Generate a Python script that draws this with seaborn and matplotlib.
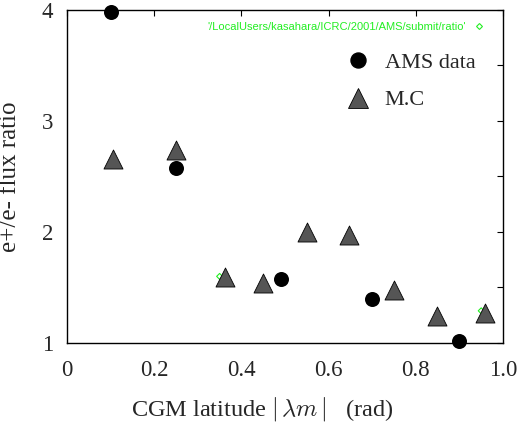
import matplotlib
matplotlib.use("Agg")
import matplotlib.pyplot as plt
import seaborn as sns
from matplotlib.lines import Line2D

# values
ams_lat = [0.10, 0.25, 0.49, 0.70, 0.90]
ams_ratio = [3.98, 2.58, 1.58, 1.40, 1.02]

mc_lat = [0.106, 0.25, 0.362, 0.45, 0.55, 0.647, 0.75, 0.849, 0.959]
mc_ratio = [2.66, 2.74, 1.59, 1.54, 2.00, 1.97, 1.48, 1.24, 1.27]

file_lat = [0.35, 0.95]
file_ratio = [1.60, 1.29]
file_label = "'/LocalUsers/kasahara/ICRC/2001/AMS/submit/ratio'"

x_ticks = [0, 0.2, 0.4, 0.6, 0.8, 1.0]
x_ticklabels = ["0", "0.2", "0.4", "0.6", "0.8", "1.0"]
y_ticks = [1, 1.5, 2, 2.5, 3, 3.5, 4]
y_ticklabels = ["1", "", "2", "", "3", "", "4"]

GREEN = "#22ee22"
GRAY = "#555555"

sns.set_style("white")
plt.rcParams["font.family"] = ["Liberation Serif", "DejaVu Serif"]
plt.rcParams["mathtext.fontset"] = "cm"

fig = plt.figure(figsize=(5.25, 4.29), dpi=100)
ax = fig.add_axes([0.1276, 0.2005, 0.8305, 0.7762])

sns.scatterplot(x=file_lat, y=file_ratio, ax=ax, marker="D", s=9,
                facecolor="none", edgecolor=GREEN, linewidth=0.8, zorder=2)
sns.scatterplot(x=mc_lat, y=mc_ratio, ax=ax, marker="^", s=13.7 ** 2,
                color=GRAY, edgecolor="black", linewidth=0.6, zorder=3)
sns.scatterplot(x=ams_lat, y=ams_ratio, ax=ax, marker="o", s=10.8 ** 2,
                color="black", linewidth=0, zorder=4, clip_on=False)

ax.set_xlim(0, 1)
ax.set_ylim(1, 4)
ax.set_xticks(x_ticks, labels=x_ticklabels)
ax.set_yticks(y_ticks, labels=y_ticklabels)
ax.tick_params(direction="in", length=4, width=0.8, top=True, right=True,
               labelsize=16.5, color="black")
ax.tick_params(axis="x", pad=12)
ax.tick_params(axis="y", pad=10)
for spine in ax.spines.values():
    spine.set_color("black")
    spine.set_linewidth(1)

ax.set_xlabel(r"CGM latitude $|\,\lambda m\,|$   (rad)", fontsize=17.5)
ax.xaxis.set_label_coords(0.447, -0.155)
ax.set_ylabel("e+/e- flux ratio", fontsize=18)
ax.yaxis.set_label_coords(-0.105, 0.5)

leg1 = ax.legend(
    handles=[Line2D([], [], marker="D", ls="none", mfc="none", mec=GREEN,
                    mew=0.8, ms=3)],
    labels=[file_label], loc="upper right", markerfirst=False,
    frameon=False, labelcolor=GREEN, handlelength=1, handletextpad=0.6,
    prop={"family": "Liberation Sans", "size": 8},
    bbox_to_anchor=(0.967, 0.978), borderaxespad=0)
ax.add_artist(leg1)

ax.legend(
    handles=[Line2D([], [], marker="o", ls="none", color="black", ms=10.8),
             Line2D([], [], marker="^", ls="none", mfc=GRAY, mec="black",
                    mew=0.6, ms=13.7)],
    labels=["AMS data", "M.C"], loc="upper left", frameon=False,
    prop={"size": 16}, handlelength=1, handletextpad=0.7, labelspacing=0.75,
    bbox_to_anchor=(0.622, 0.899), borderaxespad=0)

fig.savefig("out.png", dpi=100)
